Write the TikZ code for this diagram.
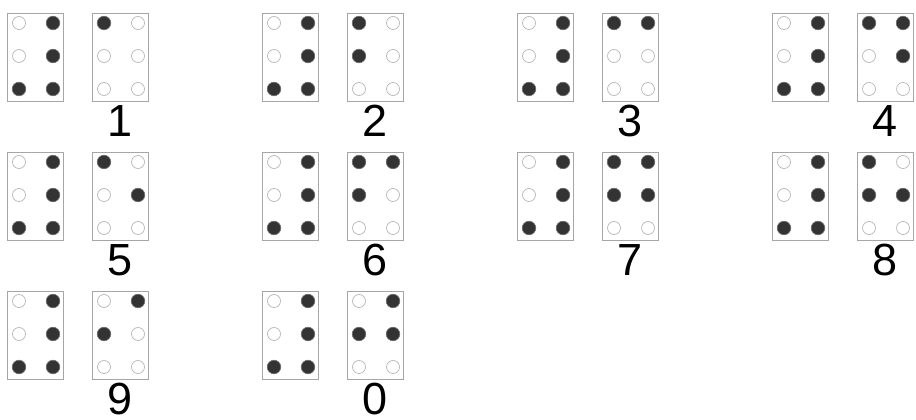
\documentclass[tikz,border=0pt]{standalone}
\usepackage{fontspec}
\setmainfont{Liberation Sans}

% one braille cell, top-left corner at (#1,#2), raised dots listed in #3
\newcommand{\braillecell}[3]{%
  \draw[cellbox] (#1,#2) rectangle ++(56,88);
  \foreach \dx/\dy in {12/10,12/43,12/76,46/10,46/43,46/76}
    \draw[nodot] (#1+\dx,#2+\dy) circle[radius=6.5pt];
  \foreach \n [evaluate=\n as \cx using {12+34*int((\n-1)/3)},
               evaluate=\n as \cy using {10+33*mod(\n-1,3)}] in {#3}
    \fill[dot] (#1+\cx,#2+\cy) circle[radius=6.8pt];
}

% number sign + letter cell + digit below
\newcommand{\braillenum}[4]{%
  \braillecell{#1}{#2}{3,4,5,6}
  \braillecell{#1+85}{#2}{#3}
  \node[digit] (num#4) at (#1+113,#2+92) {#4};
}

\begin{document}
\begin{tikzpicture}[
  x=1pt, y=-1pt,
  cellbox/.style={draw=black!35, line width=0.8pt},
  nodot/.style={draw=black!28, line width=0.7pt, fill=white},
  dot/.style={draw=black!55, fill=black!80, line width=0.6pt},
  digit/.style={anchor=north, inner sep=0pt, font=\fontsize{45}{45}\selectfont}
]
\useasboundingbox (0,0) rectangle (916,420);

% ---------- row 1 ----------
\braillenum{7}{13}{1}{1}
\braillenum{262}{13}{1,2}{2}
\braillenum{517}{13}{1,4}{3}
\braillenum{772}{13}{1,4,5}{4}

% ---------- row 2 ----------
\braillenum{7}{152}{1,5}{5}
\braillenum{262}{152}{1,2,4}{6}
\braillenum{517}{152}{1,2,4,5}{7}
\braillenum{772}{152}{1,2,5}{8}

% ---------- row 3 ----------
\braillenum{7}{291}{2,4}{9}
\braillenum{262}{291}{2,4,5}{0}

\end{tikzpicture}
\end{document}
